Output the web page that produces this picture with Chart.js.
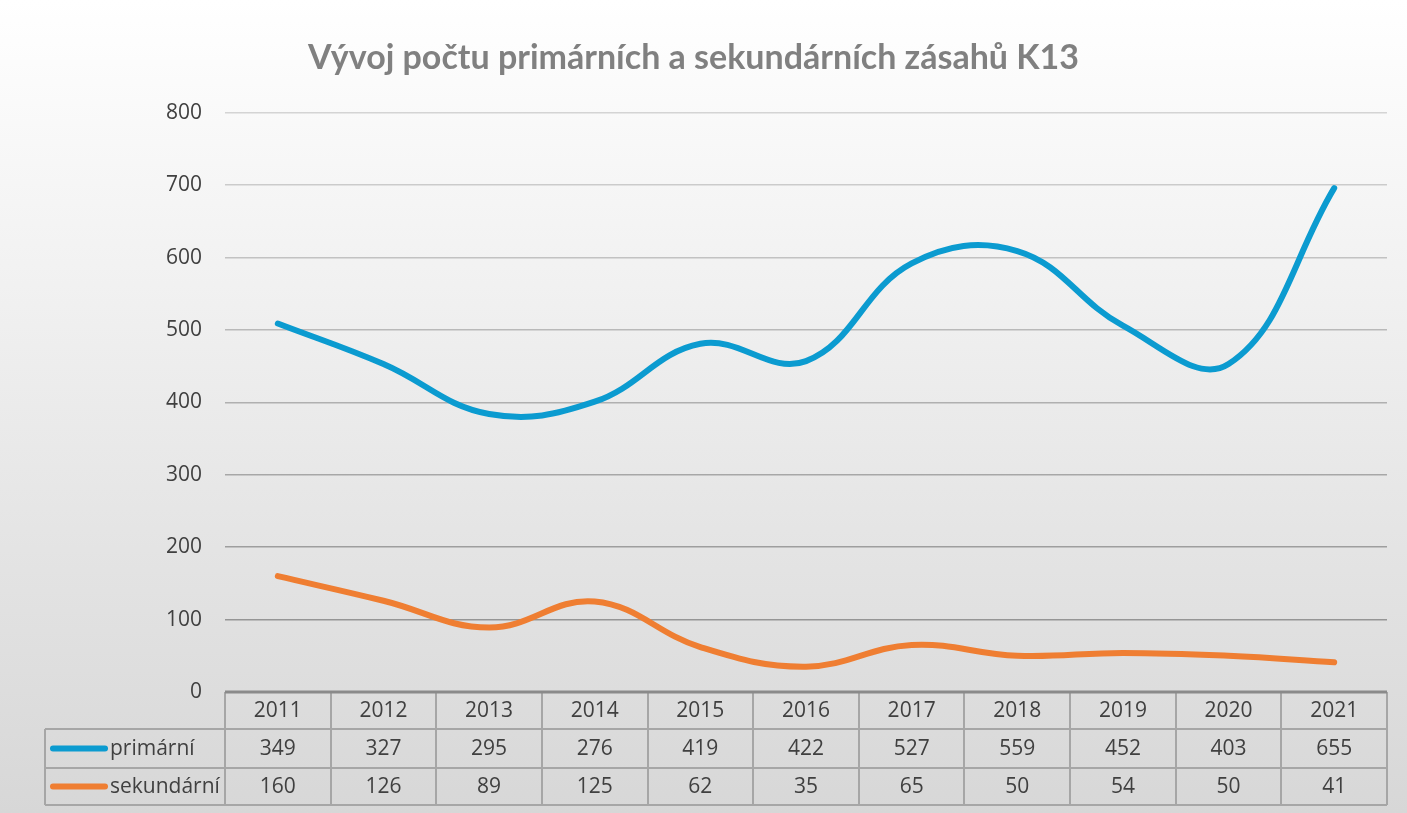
<!DOCTYPE html>
<html>
<head>
<meta charset="utf-8">
<script src="https://cdn.jsdelivr.net/npm/chart.js@4/dist/chart.umd.min.js"></script>
<style>
    html, body { margin: 0; padding: 0; background: #ffffff; }
    #wrap { width: 1407px; height: 813px; }
</style>
</head>
<body>
<div id="wrap"><canvas id="zasahyChart" width="1407" height="813"></canvas></div>
<script>
const years = ['2011', '2012', '2013', '2014', '2015', '2016', '2017', '2018', '2019', '2020', '2021'];
const primarni = [349, 327, 295, 276, 419, 422, 527, 559, 452, 403, 655];
const sekundarni = [160, 126, 89, 125, 62, 35, 65, 50, 54, 50, 41];
const yMin = 0;
const yMax = 800;
const yStep = 100;

const BLUE = '#0b9bd0';
const ORANGE = '#ef7e32';
const TEXT = '#404040';
const FONT = '"Open Sans", "DejaVu Sans", sans-serif';

// gridlines get darker towards the bottom, like the original
function gridColor(value) {
    const t = value / yMax;
    const c = Math.round(140 + (212 - 140) * t);
    return `rgb(${c},${c},${c})`;
}

const backgroundPlugin = {
    id: 'backgroundPlugin',
    beforeDraw(chart) {
        const ctx = chart.ctx;
        const g = ctx.createLinearGradient(0, 0, 0, chart.height);
        g.addColorStop(0, '#ffffff');
        g.addColorStop(1, '#d7d7d7');
        ctx.save();
        ctx.fillStyle = g;
        ctx.fillRect(0, 0, chart.width, chart.height);
        ctx.restore();
    }
};

// data table under the plot (Excel style)
const tablePlugin = {
    id: 'tablePlugin',
    afterDraw(chart) {
        const ctx = chart.ctx;
        const area = chart.chartArea;
        const x = chart.scales.x;
        const colW = (area.right - area.left) / years.length;
        const top = area.bottom;
        const rowH = [37, 39, 37];
        const r1 = top + rowH[0];
        const r2 = r1 + rowH[1];
        const r3 = r2 + rowH[2];
        const legendLeft = 45;

        ctx.save();
        ctx.strokeStyle = '#a6a6a6';
        ctx.lineWidth = 2;
        ctx.beginPath();
        ctx.moveTo(area.left, top); ctx.lineTo(area.left, r3);
        for (let i = 1; i <= years.length; i++) {
            const bx = Math.round(area.left + i * colW);
            ctx.moveTo(bx, top); ctx.lineTo(bx, r3);
        }
        [r1, r2, r3].forEach(y => {
            ctx.moveTo(legendLeft, y); ctx.lineTo(area.right, y);
        });
        ctx.moveTo(legendLeft, r1); ctx.lineTo(legendLeft, r3);
        ctx.stroke();

        // axis line at 0
        ctx.strokeStyle = '#8a8a8a';
        ctx.lineWidth = 3;
        ctx.beginPath();
        ctx.moveTo(area.left, top); ctx.lineTo(area.right, top);
        ctx.stroke();

        ctx.fillStyle = TEXT;
        ctx.font = '21px ' + FONT;
        ctx.textAlign = 'center';
        ctx.textBaseline = 'middle';
        years.forEach((yr, i) => {
            const cx = x.getPixelForValue(i);
            ctx.fillText(yr, cx, (top + r1) / 2 + 1);
            ctx.fillText(String(primarni[i]), cx, (r1 + r2) / 2 + 1);
            ctx.fillText(String(sekundarni[i]), cx, (r2 + r3) / 2 + 1);
        });

        // legend keys
        const rows = [
            { label: 'primární', color: BLUE, y: (r1 + r2) / 2 },
            { label: 'sekundární', color: ORANGE, y: (r2 + r3) / 2 }
        ];
        rows.forEach(row => {
            ctx.strokeStyle = row.color;
            ctx.lineWidth = 6;
            ctx.lineCap = 'round';
            ctx.beginPath();
            ctx.moveTo(53, row.y); ctx.lineTo(105, row.y);
            ctx.stroke();
            ctx.textAlign = 'left';
            ctx.fillText(row.label, 110, row.y + 1);
        });
        ctx.restore();
    }
};

const ctx = document.getElementById('zasahyChart').getContext('2d');
const chart = new Chart(ctx, {
    type: 'line',
    data: {
        labels: years,
        datasets: [{
            // stacked first, so it sits at the bottom
            label: 'sekundární',
            data: sekundarni,
            borderColor: ORANGE,
            borderWidth: 6,
            borderCapStyle: 'round',
            pointRadius: 0,
            tension: 0.4,
            fill: false
        }, {
            label: 'primární',
            data: primarni,
            borderColor: BLUE,
            borderWidth: 6,
            borderCapStyle: 'round',
            pointRadius: 0,
            tension: 0.4,
            fill: false
        }]
    },
    options: {
        responsive: false,
        animation: false,
        layout: {
            padding: { top: 0, left: 0, right: 20, bottom: 121 }
        },
        plugins: {
            legend: { display: false },
            tooltip: { enabled: false },
            title: {
                display: true,
                text: 'Vývoj počtu primárních a sekundárních zásahů K13',
                color: '#808080',
                font: { family: 'Lato, "Open Sans", sans-serif', size: 34, weight: 'bold' },
                padding: { top: 38, bottom: 34 }
            }
        },
        scales: {
            x: {
                display: false,
                offset: true
            },
            y: {
                stacked: true,
                min: yMin,
                max: yMax,
                afterFit(scale) {
                    scale.width = 225;
                },
                ticks: {
                    stepSize: yStep,
                    padding: 23,
                    color: TEXT,
                    font: { family: FONT, size: 21 }
                },
                border: { display: false },
                grid: {
                    drawTicks: false,
                    lineWidth: 1.5,
                    color: c => c.tick && c.tick.value === 0 ? 'rgba(0,0,0,0)' : gridColor(c.tick ? c.tick.value : 0)
                }
            }
        }
    },
    plugins: [backgroundPlugin, tablePlugin]
});
</script>
</body>
</html>
